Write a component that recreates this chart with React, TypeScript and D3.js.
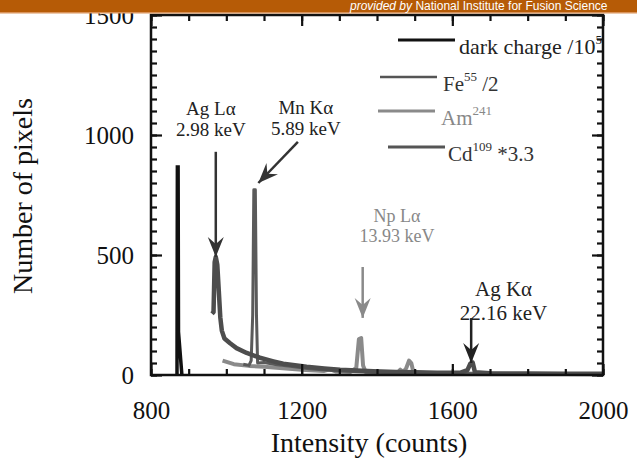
import { useEffect, useRef } from "react";
import * as d3 from "d3";

// [intensity (counts), number of pixels]
const darkCharge: [number, number][] = [
  [869, 0], [870, 867], [872, 867], [873, 180], [882, 0],
];

const fe55: [number, number][] = [
  [1045, 45], [1060, 40], [1066, 60], [1070, 250], [1073, 772], [1077, 772], [1080, 250], [1083, 50],
  [1100, 52], [1130, 44], [1170, 36], [1220, 26], [1280, 19], [1350, 14], [1420, 10], [1500, 8],
  [1600, 6], [1700, 5], [1800, 4], [1900, 3], [2000, 3],
];

const am241: [number, number][] = [
  [990, 60], [1020, 45], [1060, 38], [1100, 34], [1150, 28], [1200, 22], [1260, 17], [1275, 24], [1290, 15],
  [1330, 13], [1345, 30], [1352, 150], [1358, 154], [1363, 40], [1370, 13], [1420, 11], [1455, 10],
  [1462, 22], [1470, 12], [1478, 30], [1485, 60], [1491, 50], [1497, 10], [1550, 7], [1600, 6],
  [1700, 5], [1800, 4], [1900, 4], [2000, 3],
];

const cd109: [number, number][] = [
  [962, 255], [966, 262], [969, 470], [972, 492], [976, 460], [980, 350], [984, 240], [988, 185],
  [995, 152], [1010, 132], [1027, 112], [1054, 92], [1089, 72], [1125, 57], [1151, 47], [1213, 34],
  [1260, 27], [1302, 22], [1390, 16], [1450, 13], [1500, 11], [1560, 9], [1620, 9], [1640, 20],
  [1648, 48], [1654, 52], [1660, 12], [1700, 7], [1800, 6], [1900, 5], [2000, 5],
];

const xLabelTicks = [800, 1200, 1600, 2000];
const yLabelTicks = [0, 500, 1000, 1500];

// annotation arrows: tail -> tip, in data units
const arrows = [
  { name: "AgLa", from: [972, 930], to: [972, 492], color: "#333" },
  { name: "MnKa", from: [1190, 971], to: [1085, 800], color: "#333" },
  { name: "NpLa", from: [1362, 450], to: [1362, 238], color: "#8a8a8a" },
  { name: "AgKa", from: [1650, 237], to: [1650, 50], color: "#222" },
];

const annotations = [
  { lines: ["Ag L\u03b1", "2.98 keV"], at: [959, 1083], size: 19, color: "#222" },
  { lines: ["Mn K\u03b1", "5.89 keV"], at: [1211, 1088], size: 19, color: "#222" },
  { lines: ["Np L\u03b1", "13.93 keV"], at: [1453, 638], size: 18, color: "#888" },
  { lines: ["Ag K\u03b1", "22.16 keV"], at: [1736, 329], size: 21, color: "#222" },
];

const legend = [
  { base: "dark charge /10", sup: "5", after: "", color: "#111", text: "#222", width: 3, x1: 398, x2: 455, y: 40, tx: 459, size: 22 },
  { base: "Fe", sup: "55", after: " /2", color: "#555", text: "#333", width: 2.5, x1: 380, x2: 437, y: 77, tx: 443, size: 21 },
  { base: "Am", sup: "241", after: "", color: "#8a8a8a", text: "#888", width: 3, x1: 378, x2: 435, y: 111, tx: 441, size: 21 },
  { base: "Cd", sup: "109", after: " *3.3", color: "#555", text: "#333", width: 3, x1: 388, x2: 445, y: 147, tx: 448, size: 21 },
];

const serif = "'Liberation Serif', 'Times New Roman', serif";

export default function App() {
  const axesRef = useRef<SVGGElement>(null);

  const x = d3.scaleLinear().domain([800, 2000]).range([151, 603]);
  const y = d3.scaleLinear().domain([0, 1500]).range([375, 15]);

  const line = d3.line<[number, number]>()
    .x(d => x(d[0]))
    .y(d => y(d[1]));

  useEffect(() => {
    const g = d3.select(axesRef.current);
    const xMinor = d3.range(800, 2001, 100);
    const yMinor = d3.range(0, 1501, 50);

    g.append("g").attr("transform", `translate(0,${y(0)})`)
      .call(d3.axisBottom(x).tickValues(xMinor).tickSizeInner(-6).tickSizeOuter(0).tickFormat(() => ""));
    g.append("g").attr("transform", `translate(0,${y(0)})`)
      .call(d3.axisBottom(x).tickValues(xLabelTicks).tickSizeInner(-11).tickSizeOuter(0).tickPadding(26).tickFormat(d3.format("d")));
    g.append("g").attr("transform", `translate(0,${y(1500)})`)
      .call(d3.axisTop(x).tickValues(xMinor).tickSizeInner(-6).tickSizeOuter(0).tickFormat(() => ""));
    g.append("g").attr("transform", `translate(0,${y(1500)})`)
      .call(d3.axisTop(x).tickValues(xLabelTicks).tickSizeInner(-11).tickSizeOuter(0).tickFormat(() => ""));

    g.append("g").attr("transform", `translate(${x(800)},0)`)
      .call(d3.axisLeft(y).tickValues(yMinor).tickSizeInner(-6).tickSizeOuter(0).tickFormat(() => ""));
    g.append("g").attr("transform", `translate(${x(800)},0)`)
      .call(d3.axisLeft(y).tickValues(yLabelTicks).tickSizeInner(-11).tickSizeOuter(0).tickPadding(17).tickFormat(d3.format("d")));
    g.append("g").attr("transform", `translate(${x(2000)},0)`)
      .call(d3.axisRight(y).tickValues(yMinor).tickSizeInner(-6).tickSizeOuter(0).tickFormat(() => ""));
    g.append("g").attr("transform", `translate(${x(2000)},0)`)
      .call(d3.axisRight(y).tickValues(yLabelTicks).tickSizeInner(-11).tickSizeOuter(0).tickFormat(() => ""));

    g.selectAll(".domain").remove();
    g.selectAll(".tick line").attr("stroke", "#111").attr("stroke-width", 2.2);
    g.selectAll("text")
      .attr("font-family", serif)
      .attr("font-size", 25)
      .attr("fill", "#111");

    return () => { g.selectAll("*").remove(); };
  }, []);

  // notched arrowhead at the tip, pointing along the arrow
  function arrowHead(from: number[], to: number[]) {
    const x0 = x(from[0]), y0 = y(from[1]);
    const x1 = x(to[0]), y1 = y(to[1]);
    const ang = Math.atan2(y1 - y0, x1 - x0);
    const len = 20, half = 8, notch = 13;
    const pt = (back: number, side: number) => {
      const bx = x1 - back * Math.cos(ang) - side * Math.sin(ang);
      const by = y1 - back * Math.sin(ang) + side * Math.cos(ang);
      return `${bx},${by}`;
    };
    return `M${x1},${y1} L${pt(len, half)} L${pt(notch, 0)} L${pt(len, -half)} Z`;
  }

  return (
    <svg width={637} height={459} style={{ position: "absolute", left: 0, top: 0, background: "#fff" }}>
      <rect x={0} y={0} width={637} height={459} fill="#fff" />

      {/* data */}
      <path d={line(am241) ?? ""} fill="none" stroke="#8a8a8a" strokeWidth={4} strokeLinejoin="round" />
      <path d={line(fe55) ?? ""} fill="none" stroke="#5a5a5a" strokeWidth={3} strokeLinejoin="round" />
      <path d={line(cd109) ?? ""} fill="none" stroke="#4d4d4d" strokeWidth={4.5} strokeLinejoin="round" />
      <path d={line(darkCharge) ?? ""} fill="none" stroke="#111" strokeWidth={3.5} strokeLinejoin="miter" />

      {/* axes */}
      <g ref={axesRef} />
      <rect x={x(800)} y={y(1500)} width={x(2000) - x(800)} height={y(0) - y(1500)}
        fill="none" stroke="#111" strokeWidth={2.5} />

      {/* arrows */}
      {arrows.map(a => (
        <g key={a.name}>
          <line x1={x(a.from[0])} y1={y(a.from[1])} x2={x(a.to[0])} y2={y(a.to[1])}
            stroke={a.color} strokeWidth={2.5} />
          <path d={arrowHead(a.from, a.to)} fill={a.color} />
        </g>
      ))}

      {/* annotation text */}
      {annotations.map((n, i) => (
        <text key={i} x={x(n.at[0])} y={y(n.at[1])} textAnchor="middle"
          fontFamily={serif} fontSize={n.size} fill={n.color}>
          {n.lines.map((t, j) => (
            <tspan key={j} x={x(n.at[0])} dy={j === 0 ? 0 : n.size * 1.12}>{t}</tspan>
          ))}
        </text>
      ))}

      {/* legend */}
      {legend.map((l, i) => (
        <g key={i}>
          <line x1={l.x1} x2={l.x2} y1={l.y} y2={l.y} stroke={l.color} strokeWidth={l.width} />
          <text x={l.tx} y={l.y + 14} fontFamily={serif} fontSize={l.size} fill={l.text}>
            {l.base}
            <tspan fontSize={13} dy={-10}>{l.sup}</tspan>
            <tspan dy={10}>{l.after}</tspan>
          </text>
        </g>
      ))}

      {/* axis titles */}
      <text x={369} y={452} textAnchor="middle" fontFamily={serif} fontSize={28} fill="#111">
        Intensity (counts)
      </text>
      <text transform="translate(32,196) rotate(-90)" textAnchor="middle" fontFamily={serif} fontSize={28} fill="#111">
        Number of pixels
      </text>

      {/* source banner */}
      <rect x={0} y={0} width={637} height={13} fill="#b65b06" />
      <rect x={0} y={12} width={637} height={1.5} fill="#d9935a" />
      <text x={350} y={10} fontFamily="'Liberation Sans', Arial, sans-serif" fontSize={12} fill="#fff">
        <tspan fontStyle="italic">provided by</tspan> National Institute for Fusion Science
      </text>
    </svg>
  );
}
